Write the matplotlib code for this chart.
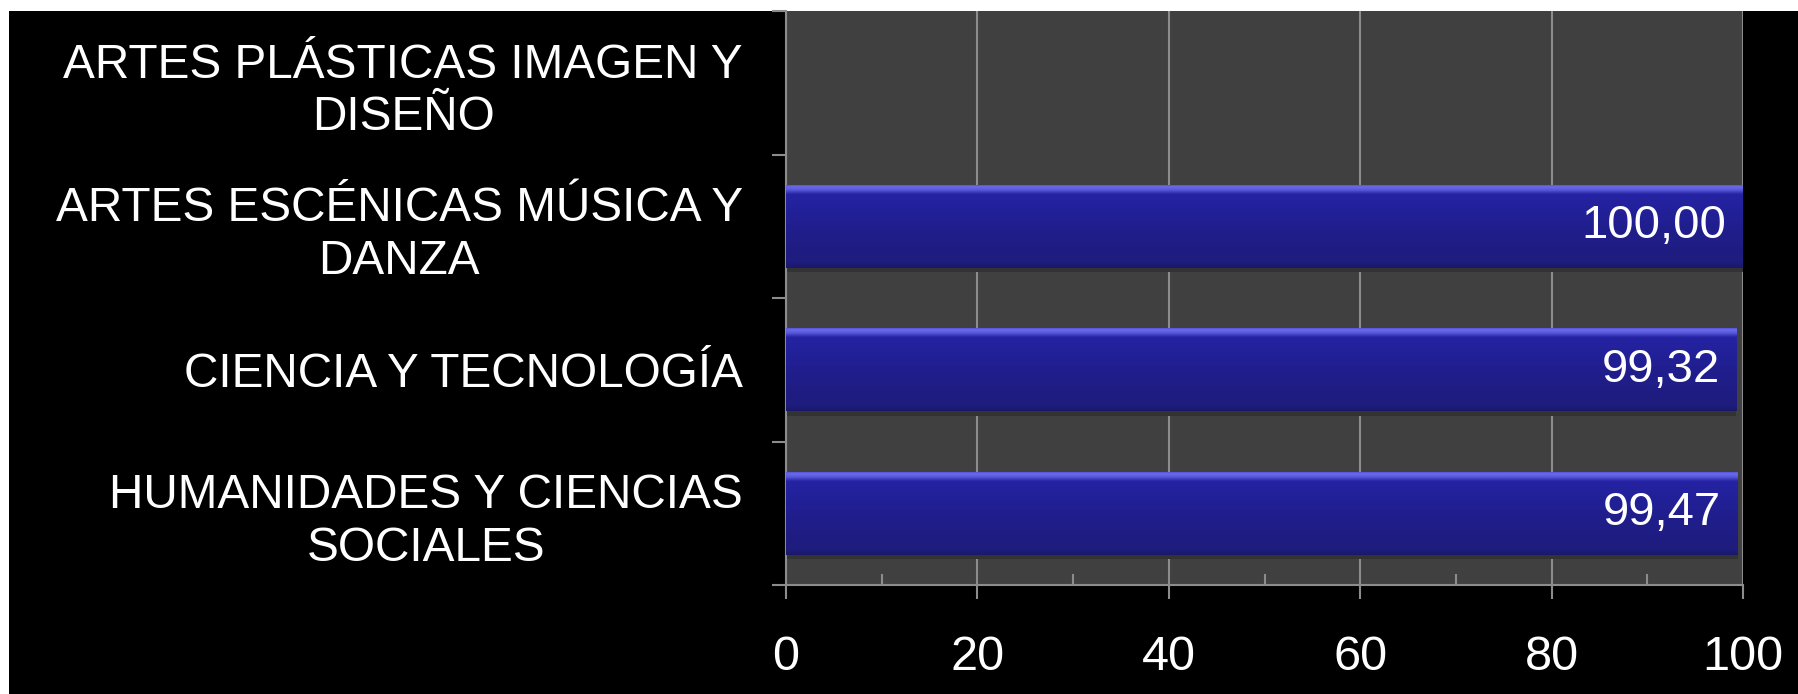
import matplotlib
matplotlib.use("Agg")
import matplotlib.pyplot as plt
import numpy as np
from matplotlib.patches import Rectangle
from matplotlib.colors import LinearSegmentedColormap

categories = ["HUMANIDADES Y CIENCIAS\nSOCIALES",
              "CIENCIA Y TECNOLOGÍA",
              "ARTES ESCÉNICAS MÚSICA Y\nDANZA",
              "ARTES PLÁSTICAS IMAGEN Y\nDISEÑO"]
values = [99.47, 99.32, 100.00, None]
value_labels = ["99,47", "99,32", "100,00", None]
xticks = [0, 20, 40, 60, 80, 100]

plt.rcParams['font.family'] = ['Liberation Sans', 'DejaVu Sans']

W, H = 1798, 694
fig = plt.figure(figsize=(W / 100, H / 100), dpi=100, facecolor='white')
fig.patches.append(Rectangle((9 / W, 0), 1 - 9 / W, 1 - 11 / H, transform=fig.transFigure,
                             facecolor='black', edgecolor='none', zorder=-10))

ax = fig.add_axes([786 / W, 1 - 585 / H, (1743 - 786) / W, (585 - 11) / H])
ax.set_facecolor('#404040')

grid_c = '#8c8c8c'
ypos = np.arange(len(categories))
bar_vals = [v if v is not None else 0 for v in values]
bars = ax.barh(ypos, bar_vals, height=0.58, color='#22209a', edgecolor='none', zorder=3)

# gradient fill for 3D-like bars
cmap = LinearSegmentedColormap.from_list('barg', [
    (0.0, '#1a1866'), (0.06, '#1e1c7c'), (0.45, '#201e8c'),
    (0.75, '#23219c'), (0.88, '#2523a2'), (0.93, '#5656d8'), (0.97, '#6a6aee'), (1.0, '#4a48c8')])
grad = np.linspace(0, 1, 256).reshape(-1, 1)
for b, v in zip(bars, values):
    if v is None:
        b.set_visible(False)
        continue
    x0, y0, w, h = b.get_x(), b.get_y(), b.get_width(), b.get_height()
    # shadow below bar
    ax.add_patch(Rectangle((x0, y0 - 0.03), w, 0.03, facecolor='#333333', edgecolor='none', zorder=2.5))
    im = ax.imshow(grad, aspect='auto', cmap=cmap, origin='lower',
                   extent=(x0, x0 + w, y0, y0 + h), zorder=3.5, interpolation='bilinear')
    im.set_clip_path(b)

for y, v, lab in zip(ypos, values, value_labels):
    if v is None:
        continue
    ax.annotate(lab, xy=(v, y), xytext=(-12, 0), textcoords='offset points',
                ha='right', va='center', color='white', fontsize=34, zorder=5)

ax.set_xlim(0, 100)
ax.set_ylim(-0.5, len(categories) - 0.5)

ax.set_xticks(xticks)
ax.set_xticks(np.arange(10, 100, 20), minor=True)
ax.set_xticklabels([str(t) for t in xticks])
ax.tick_params(axis='x', which='major', direction='out', length=10, width=1.5,
               color=grid_c, labelcolor='white', labelsize=35, pad=26)
ax.tick_params(axis='x', which='minor', direction='in', length=8, width=1.5, color=grid_c)

ax.set_yticks(np.arange(-0.5, len(categories), 1.0))
ax.set_yticklabels([])
ax.set_yticks(ypos, minor=True)
ax.set_yticklabels(categories, minor=True)
ax.tick_params(axis='y', which='major', direction='out', length=10, width=1.5, color=grid_c)
ax.tick_params(axis='y', which='minor', length=0, labelcolor='white', labelsize=34.4, pad=31)
for t in ax.get_yticklabels(minor=True):
    t.set_multialignment('center')
    t.set_linespacing(1.22)

ax.grid(axis='x', which='major', color=grid_c, linewidth=1.5, zorder=1)
ax.set_axisbelow(True)
for s in ['top', 'right']:
    ax.spines[s].set_visible(False)
for s in ['left', 'bottom']:
    ax.spines[s].set_color(grid_c)
    ax.spines[s].set_linewidth(1.5)

fig.savefig('out.png', dpi=100, facecolor=fig.get_facecolor())
